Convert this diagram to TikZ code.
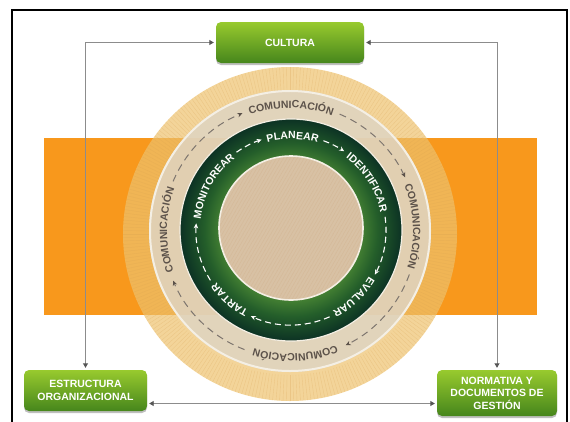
\documentclass[tikz,border=0pt]{standalone}
\usepackage{fontspec}
\setsansfont{Liberation Sans}
\usetikzlibrary{arrows.meta,decorations.text,patterns.meta,shadows}

\definecolor{bandorange}{RGB}{248,152,28}
\definecolor{tanout}{RGB}{238,194,110}
\definecolor{tanline}{RGB}{214,160,80}
\definecolor{ringgray}{RGB}{223,212,194}
\definecolor{rimcream}{RGB}{244,239,228}
\definecolor{innertan}{RGB}{216,193,164}
\definecolor{ringin}{RGB}{66,126,50}
\definecolor{ringmid}{RGB}{36,94,42}
\definecolor{ringout}{RGB}{12,50,36}
\definecolor{commgray}{RGB}{92,82,74}
\definecolor{boxtop}{RGB}{152,202,46}
\definecolor{boxbot}{RGB}{70,134,28}
\definecolor{linegray}{RGB}{140,140,140}
\definecolor{tipgray}{RGB}{85,85,85}

\pgfdeclareradialshading{greenring}{\pgfpoint{0bp}{0bp}}{color(0bp)=(ringin); color(16bp)=(ringin); color(19.5bp)=(ringmid); color(25bp)=(ringout); color(50bp)=(ringout)}

\newcommand\ringfont{\sffamily\bfseries\fontsize{10.5}{12}\selectfont}
\newcommand\commfont{\sffamily\bfseries\fontsize{10.5}{12}\selectfont}

\begin{document}
\begin{tikzpicture}[x=1pt,y=1pt,
  box/.style={rounded corners=5pt, top color=boxtop, bottom color=boxbot, draw=none,
    text=white, align=center, inner sep=0pt, font=\sffamily\bfseries\fontsize{10.5}{12.5}\selectfont,
    drop shadow={shadow xshift=0pt, shadow yshift=-2pt, opacity=.25, fill=black}},
  conn/.style={draw=linegray, line width=.9pt,
    {Triangle[length=4.5pt,width=5pt,color=tipgray]}-{Triangle[length=4.5pt,width=5pt,color=tipgray]},
    shorten <=2pt, shorten >=2pt},
  innerdash/.style={white, line width=1.1pt, dash pattern=on 6pt off 4pt, -{Stealth[length=5pt,width=4.5pt]}},
  outerdash/.style={commgray!80, line width=1pt, dash pattern=on 7pt off 5pt, -{Stealth[length=5pt,width=4.5pt,color=commgray]}},
  innertext/.style={decorate, decoration={text along path, text={|\ringfont|#1}, text align=center, text color=white}},
  outertext/.style={decorate, decoration={text along path, text={|\commfont|#1}, text align=center, text color=commgray}}]
\useasboundingbox (0,0) rectangle (570,-421);
\clip (0,0) rectangle (570,-421);

% frame
\draw[line width=2.5pt] (12,-10) rectangle (567,-440);

% orange band
\fill[bandorange] (44,-138) rectangle (537,-315);

% ring centres
\coordinate (t) at (290,-234);
\coordinate (o) at (290,-231);
\coordinate (g) at (291,-230);
\coordinate (i) at (291,-228);

% outer tan disc with fine radial stripes
\fill[tanout, opacity=.7] (t) circle (167);
\foreach \a in {0,1.2,...,359} \draw[tanline, opacity=.28, line width=.4pt] (t) ++(\a:141) -- ++(\a:26);

% gray ring
\fill[ringgray, opacity=.85] (o) circle (141);
\draw[rimcream, line width=2pt] (o) circle (140);

% green ring
\shade[shading=greenring] (g) circle (111);
\draw[rimcream, line width=1.2pt] (g) circle (111);

% inner disc
\fill[innertan] (i) circle (72);
\fill[pattern={Lines[angle=60,distance=3pt,line width=.4pt]}, pattern color=innertan!88!brown] (i) circle (72);
\draw[rimcream, line width=1.6pt] (i) circle (72);

% cycle on the green ring
\path[innertext=PLANEAR] (g) ++(121:91) arc[start angle=121, end angle=57, radius=91];
\path[innertext=IDENTIFICAR] (g) ++(64:91) arc[start angle=64, end angle=0, radius=91];
\path[innertext=EVALUAR] (g) ++(-15:91) arc[start angle=-15, end angle=-79, radius=91];
\path[innertext=TARTAR] (g) ++(-99.5:91) arc[start angle=-99.5, end angle=-163.5, radius=91];
\path[innertext=MONITOREAR] (g) ++(182.5:91) arc[start angle=182.5, end angle=118.5, radius=91];
\draw[innerdash] (g) ++(125:95) arc[start angle=125, end angle=108, radius=95];
\draw[innerdash] (g) ++(70:95) arc[start angle=70, end angle=56, radius=95];
\draw[innerdash] (g) ++(8:95) arc[start angle=8, end angle=-28, radius=95];
\draw[innerdash] (g) ++(-66:95) arc[start angle=-66, end angle=-115, radius=95];
\draw[innerdash] (g) ++(-148:95) arc[start angle=-148, end angle=-184, radius=95];

% comunicacion on the gray ring
\foreach \c in {89.5,2,-87.5,179.5}
  \path[outertext=COMUNICACIÓN] (o) ++(\c+32:123) arc[start angle=\c+32, end angle=\c-32, radius=123];
\draw[outerdash] (o) ++(157:127) arc[start angle=157, end angle=112, radius=127];
\draw[outerdash] (o) ++(67:127) arc[start angle=67, end angle=25, radius=127];
\draw[outerdash] (o) ++(-20:127) arc[start angle=-20, end angle=-64, radius=127];
\draw[outerdash] (o) ++(-111:127) arc[start angle=-111, end angle=-157, radius=127];

% boxes
\node[box, minimum width=148pt, minimum height=41pt] (cultura) at (290,-42.5) {CULTURA};
\node[box, minimum width=123pt, minimum height=41pt] (estructura) at (85.5,-390.5) {ESTRUCTURA\\ORGANIZACIONAL};
\node[box, minimum width=120pt, minimum height=46pt] (normativa) at (497,-393) {NORMATIVA Y\\DOCUMENTOS DE\\GESTIÓN};

% connectors
\draw[conn] (estructura.north) |- (cultura.west);
\draw[conn] (normativa.north) |- (cultura.east);
\draw[conn] ([yshift=-13pt]estructura.east) -- ([yshift=-13pt]estructura.east -| normativa.west);
\end{tikzpicture}
\end{document}
